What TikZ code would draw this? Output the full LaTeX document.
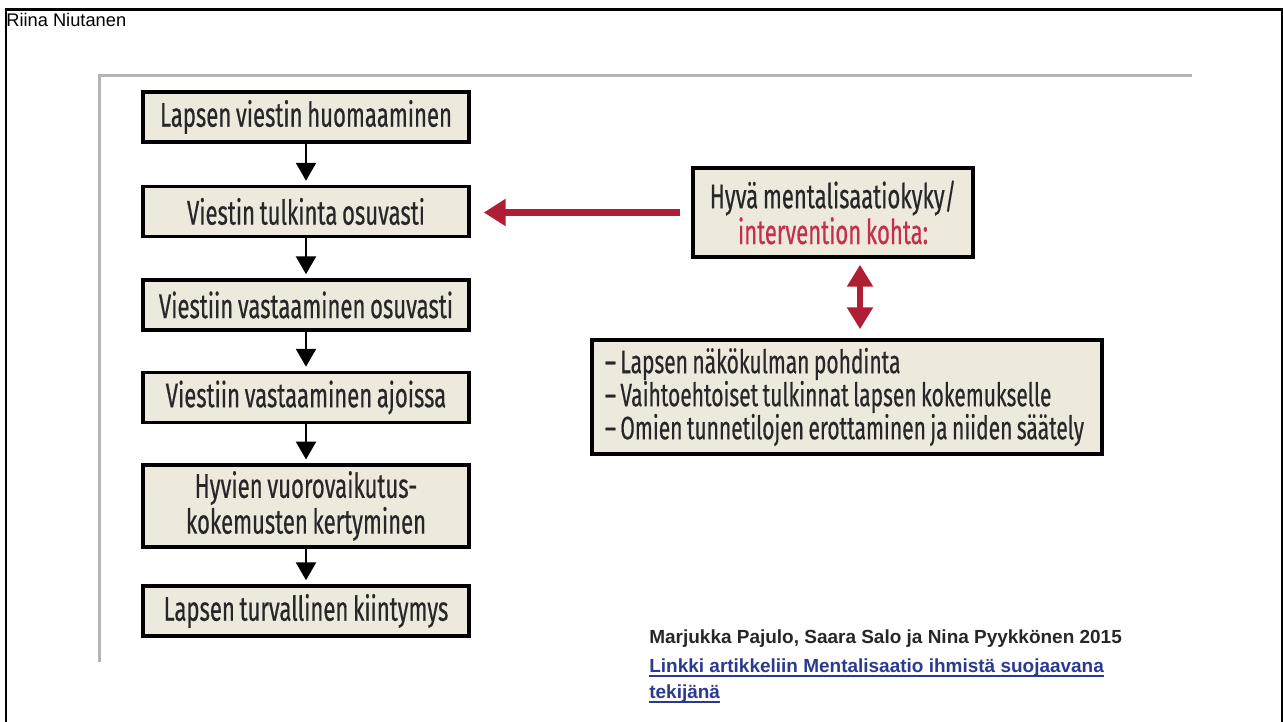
\documentclass[tikz,border=0pt]{standalone}
\usepackage{fontspec}
\setmainfont{Liberation Sans}
\newfontfamily\boxfont[FakeStretch=0.645,FakeBold=0.45,WordSpace=0.8]{Fira Sans}
\usetikzlibrary{arrows.meta,calc}
\definecolor{boxfill}{HTML}{EEE9DD}
\definecolor{boxtext}{HTML}{2A2627}
\definecolor{darkred}{HTML}{B01E36}
\definecolor{pinkred}{HTML}{C2304B}
\definecolor{linkblue}{HTML}{2B3990}
\definecolor{rulegray}{HTML}{B4B4B4}
\newlength\lnkw
\newcommand{\lnk}[1]{\settowidth{\lnkw}{#1}#1\llap{\rule[-3pt]{\lnkw}{1.4pt}}}
\begin{document}
\begin{tikzpicture}[
        x=0.02cm, y=-0.02cm,
        stage/.style={
        draw,
        line width=0.07cm,
        fill=boxfill,
        text=boxtext,
        minimum width=6.52cm,
        minimum height=1cm,
        align=center,
        font=\boxfont\fontsize{19.5}{17.5}\selectfont
      },
      flow/.style={
        -{Triangle[length=0.36cm,width=0.4cm]},
        line width=0.05cm
      },
      push/.style={
        -{Triangle[length=0.44cm,width=0.52cm]},
        line width=0.15cm,
        darkred
      }
    ]

    \useasboundingbox (0,0) rectangle (1283,722);
    \draw[line width=0.06cm] (6,722) -- (6,10) -- (1282,10) -- (1282,722);
    \draw[rulegray, line width=0.06cm] (99,662) -- (99,76) -- (1192,76);

    \node[anchor=base west, inner sep=0, font=\fontsize{10.4}{12}\selectfont] (author) at (6,27) {Riina Niutanen};

    \node[stage] (s1) at (306,117) {Lapsen viestin huomaaminen};
    \node[stage] (s2) at (306,211.5) {Viestin tulkinta osuvasti};
    \node[stage] (s3) at (306,305) {Viestiin vastaaminen osuvasti};
    \node[stage] (s4) at (306,397.5) {Viestiin vastaaminen ajoissa};
    \node[stage, minimum height=1.52cm] (s5) at (306,506) {Hyvien vuorovaikutus-\\kokemusten kertyminen};
    \node[stage] (s6) at (306,611) {Lapsen turvallinen kiintymys};

    \node[stage, minimum width=5.6cm, minimum height=1.78cm] (hm) at (833,212.5)
      {Hyvä mentalisaatiokyky/\\\textcolor{pinkred}{intervention kohta:}};

    \node[draw, line width=0.07cm, fill=boxfill, text=boxtext,
      minimum width=10.2cm, minimum height=2.28cm,
      text width=9.8cm, inner xsep=0.2cm,
      font=\boxfont\fontsize{18.5}{18.8}\selectfont] (lst) at (847,397)
      {\raggedright\spaceskip=0pt\xspaceskip=0pt\lineskiplimit=-20pt
       \hspace{0.06cm}– Lapsen näkökulman pohdinta\\
       \hspace{0.06cm}– Vaihtoehtoiset tulkinnat lapsen kokemukselle\\
       \hspace{0.06cm}– Omien tunnetilojen erottaminen ja niiden säätely};

    \draw[flow, shorten >=0.08cm] (s1) -- (s2);
    \draw[flow, shorten >=0.08cm] (s2) -- (s3);
    \draw[flow, shorten >=0.08cm] (s3) -- (s4);
    \draw[flow, shorten >=0.08cm] (s4) -- (s5);
    \draw[flow, shorten >=0.08cm] (s5) -- (s6);

    \draw[push, shorten <=0.22cm, shorten >=0.26cm] (hm.west) -- (hm.west -| s2.east);

    \coordinate (dx) at (860,0);
    \draw[push, line width=0.12cm, {Triangle[length=0.44cm,width=0.5cm]}-{Triangle[length=0.44cm,width=0.5cm]},
      shorten <=0.12cm, shorten >=0.18cm] (dx |- hm.south) -- (dx |- lst.north);

    \node[anchor=base west, inner sep=0, text=boxtext, font=\bfseries\fontsize{10.8}{15}\selectfont] (cite) at (649,643)
      {Marjukka Pajulo, Saara Salo ja Nina Pyykkönen 2015};
    \node[anchor=base west, inner sep=0, text=linkblue, font=\bfseries\fontsize{10.8}{15}\selectfont] (link) at (649,672)
      {\lnk{Linkki artikkeliin Mentalisaatio ihmistä suojaavana}};
    \node[anchor=base west, inner sep=0, text=linkblue, font=\bfseries\fontsize{10.8}{15}\selectfont] (linkb) at (649,698)
      {\lnk{tekijänä}};

  \end{tikzpicture}
\end{document}
